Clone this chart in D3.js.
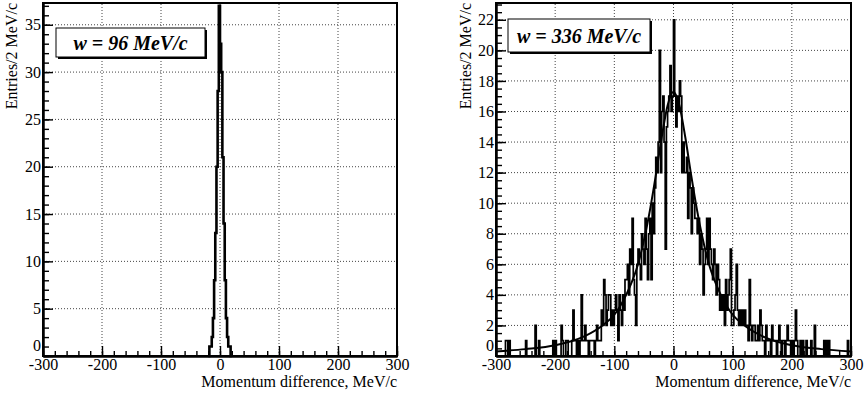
<!DOCTYPE html>
<html><head><meta charset="utf-8">
<script src="https://cdn.jsdelivr.net/npm/d3@7"></script>
<style>
html,body{margin:0;padding:0;background:#fff;}
svg{display:block;}
text{font-family:"Liberation Serif","Times New Roman",serif;fill:#000;}
</style></head>
<body>
<svg id="c" width="867" height="396"></svg>
<script>
// ---------------- data ----------------
const binWidth = 2; // MeV/c
const xDomain = [-300, 300];
const xTicks = [-300, -200, -100, 0, 100, 200, 300];

// left histogram: bins from -20 to +20 MeV/c (centres -19..19), zero elsewhere
const leftStart = -20;
const leftValues = [0,1,1,2,4,8,13,20,28,37,33,30,21,14,8,4,2,1,1,0];
const leftYTicks = [0,5,10,15,20,25,30,35];
const leftLabel = "w = 96 MeV/c";

// right histogram: 300 bins of 2 MeV/c from -300 to 300
const rightValues = [
0,0,0,0,0,0,0,0,1,1,
0,1,0,0,0,0,0,0,0,0,
0,0,0,0,0,1,0,0,0,0,
0,0,0,2,0,0,1,0,0,0,
0,0,0,0,0,0,0,0,1,0,
1,0,0,0,0,2,1,0,0,1,
1,0,0,0,1,3,1,1,0,1,
0,1,4,1,1,2,1,1,0,1,
1,1,1,0,1,2,1,1,1,3,
2,5,4,2,3,4,4,2,3,2,
3,4,3,1,4,3,2,4,3,5,
5,6,4,7,6,9,5,4,2,6,
7,6,5,8,7,6,9,7,5,8,
9,5,10,8,11,13,12,14,20,12,
16,17,14,7,15,16,17,19,16,17,
22,17,15,17,16,18,17,12,14,12,
12,13,9,12,11,8,11,10,9,9,
8,9,6,8,7,4,6,7,9,6,
9,7,6,5,7,6,4,6,5,3,
4,3,4,2,5,3,4,5,7,2,
2,3,4,6,3,2,3,2,3,2,
3,2,2,1,5,2,1,2,2,1,
1,2,1,3,2,1,1,0,2,1,
1,1,0,2,1,1,1,0,1,2,
1,0,1,1,0,1,2,1,1,0,
1,0,1,3,1,0,0,1,0,1,
0,0,1,0,0,0,1,0,0,2,
0,0,0,0,0,0,0,1,0,1,
0,1,0,0,0,0,0,0,0,0,
0,0,0,0,0,0,0,1,0,0];
const rightStart = -300;
const rightYTicks = [0,2,4,6,8,10,12,14,16,18,20,22];
const rightLabel = "w = 336 MeV/c";

// fit curve of right panel
const fitX = [-300,-250,-200,-150,-120,-100,-80,-60,-40,-30,-20,-10,0,10,20,30,40,60,80,100,120,150,200,250,300];
const fitY = [0.3,0.45,0.7,1.3,2.0,2.7,4.0,6.0,9.5,11.8,14.3,16.4,17.3,16.4,14.3,11.8,9.5,6.0,4.0,2.7,2.0,1.3,0.7,0.45,0.3];

const xTitle = "Momentum difference, MeV/c";
const yTitle = "Entries/2 MeV/c";

// ---------------- drawing ----------------
const svg = d3.select("#c");
const FONT = "Liberation Serif";

function panel(opt){
  const x = d3.scaleLinear().domain(xDomain).range([opt.x0, opt.x1]);
  const y = d3.scaleLinear().domain([0, opt.ymax]).range([opt.y0, opt.y1]);
  const g = svg.append("g");

  // grid
  g.append("g").selectAll("line").data(xTicks.filter(t => t > xDomain[0] && t < xDomain[1]))
    .join("line").attr("x1", d => x(d)).attr("x2", d => x(d))
    .attr("y1", opt.y0).attr("y2", opt.y1)
    .attr("stroke", "#444").attr("stroke-width", 1).attr("stroke-dasharray", "1,2");
  g.append("g").selectAll("line").data(opt.yTicks.filter(t => t > 0))
    .join("line").attr("y1", d => y(d)).attr("y2", d => y(d))
    .attr("x1", opt.x0).attr("x2", opt.x1)
    .attr("stroke", "#444").attr("stroke-width", 1).attr("stroke-dasharray", "1,2");

  // histogram (step outline)
  const pts = opt.values.map((v, i) => [opt.start + i * binWidth, v]);
  pts.push([opt.start + opt.values.length * binWidth, opt.values[opt.values.length - 1]]);
  const line = d3.line().x(d => x(d[0])).y(d => y(d[1])).curve(d3.curveStepAfter);
  g.append("path").attr("d", line(pts)).attr("fill", "none")
    .attr("stroke", "#000").attr("stroke-width", opt.hw).attr("stroke-linejoin", "miter");

  // fit curve
  if (opt.fitX){
    const fl = d3.line().x(d => x(d[0])).y(d => y(d[1])).curve(d3.curveMonotoneX);
    g.append("path").attr("d", fl(opt.fitX.map((v, i) => [v, opt.fitY[i]])))
      .attr("fill", "none").attr("stroke", "#000").attr("stroke-width", 2);
  }

  // frame
  g.append("rect").attr("x", opt.x0).attr("y", opt.y1)
    .attr("width", opt.x1 - opt.x0).attr("height", opt.y0 - opt.y1)
    .attr("fill", "none").attr("stroke", "#000").attr("stroke-width", 2);

  // axes: major and minor ticks inside frame
  const ax = g.append("g").attr("transform", `translate(0,${opt.y0})`)
    .call(d3.axisBottom(x).tickValues(xTicks).tickSize(-10).tickSizeOuter(0).tickPadding(3).tickFormat(d => String(d)));
  const axm = g.append("g").attr("transform", `translate(0,${opt.y0})`)
    .call(d3.axisBottom(x).tickValues(d3.range(xDomain[0], xDomain[1] + 1, 20)).tickSize(-5).tickSizeOuter(0).tickFormat(""));
  const ay = g.append("g").attr("transform", `translate(${opt.x0},0)`)
    .call(d3.axisLeft(y).tickValues(opt.yTicks).tickSize(-10).tickSizeOuter(0).tickPadding(2).tickFormat(d => String(d)));
  const aym = g.append("g").attr("transform", `translate(${opt.x0},0)`)
    .call(d3.axisLeft(y).tickValues(d3.range(0, opt.ymax, opt.minorY)).tickSize(-6).tickSizeOuter(0).tickFormat(""));
  [ax, axm, ay, aym].forEach(a => {
    a.attr("font-family", FONT);
    a.select(".domain").attr("stroke", "#000").attr("stroke-width", 2);
    a.selectAll(".tick line").attr("stroke", "#000").attr("stroke-width", 1.4);
    a.selectAll("text").attr("font-family", FONT).attr("font-size", 16).attr("fill", "#000");
  });
  // lift the y "0" label so it does not sit on the x "-300" label
  ay.selectAll(".tick text").filter(d => d === 0).attr("dy", "-0.32em");

  // titles
  g.append("text").attr("x", opt.x1).attr("y", 387).attr("text-anchor", "end")
    .attr("font-size", 16).text(xTitle);
  g.append("text").attr("transform", `translate(${opt.yTitleX},${opt.y1}) rotate(-90)`)
    .attr("text-anchor", "end").attr("font-size", 16).text(yTitle);

  // label box with shadow
  const b = opt.box;
  g.append("rect").attr("x", b[0] + 2).attr("y", b[1] + 2).attr("width", b[2] - b[0]).attr("height", b[3] - b[1]).attr("fill", "#000");
  g.append("rect").attr("x", b[0]).attr("y", b[1]).attr("width", b[2] - b[0]).attr("height", b[3] - b[1])
    .attr("fill", "#fff").attr("stroke", "#000").attr("stroke-width", 1);
  g.append("text").attr("x", (b[0] + b[2]) / 2).attr("y", (b[1] + b[3]) / 2 + 7)
    .attr("text-anchor", "middle").attr("font-size", 20).attr("font-weight", "bold").attr("font-style", "italic")
    .text(opt.label);
}

panel({x0: 43, x1: 397, y0: 356, y1: 3, ymax: 37.3, yTicks: leftYTicks, minorY: 1,
  values: leftValues, start: leftStart, hw: 2.6, label: leftLabel, box: [56, 28, 205, 57], yTitleX: 17});
panel({x0: 496, x1: 851, y0: 356, y1: 3, ymax: 23.1, yTicks: rightYTicks, minorY: 0.5,
  values: rightValues, start: rightStart, hw: 1.7, label: rightLabel, box: [508, 19, 650, 52], yTitleX: 471,
  fitX: fitX, fitY: fitY});
</script>
</body></html>
